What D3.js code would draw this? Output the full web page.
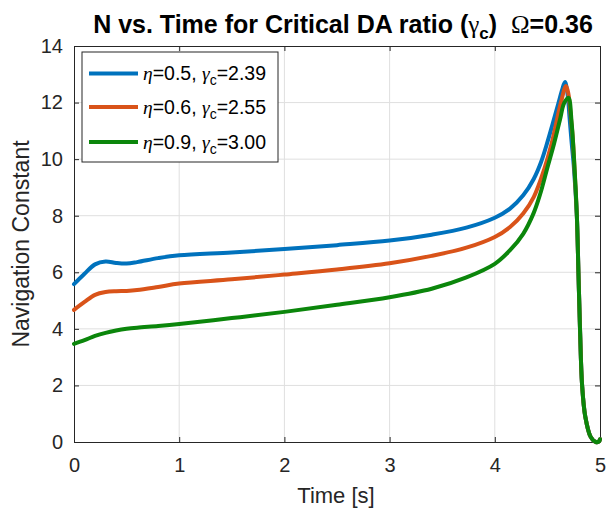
<!DOCTYPE html>
<html><head><meta charset="utf-8">
<script src="https://cdn.jsdelivr.net/npm/d3@7"></script>
<style>body{margin:0;background:#fff}</style>
</head><body><svg id="c" width="607" height="515"></svg>
<script>
const xTicks = [0,1,2,3,4,5];
const yTicks = [0,2,4,6,8,10,12,14];
const etaLabels = ["0.5","0.6","0.9"];
const gammaLabels = ["2.39","2.55","3.00"];
const colors = ["#0072BD","#D95319","#0B860B"];

const tBlue = [0,0.1,0.2,0.3,0.4,0.5,0.6,0.8,1.0,1.5,2.0,2.5,3.0,3.4,3.73,4.0,4.145,4.27,4.37,4.44,4.5,4.55,4.604,4.64,4.667,4.69,4.71,4.73,4.75,4.78,4.795,4.81,4.83,4.86,4.91,4.96,4.99,5.0];
const nBlue = [5.58,5.95,6.28,6.38,6.33,6.31,6.36,6.5,6.6,6.7,6.82,6.96,7.12,7.33,7.58,7.93,8.25,8.72,9.3,9.9,10.6,11.25,11.97,12.45,12.73,12.35,11.5,10.6,9.8,8.0,6.0,4.0,2.0,0.9,0.19,0.0,0.02,0.1];
const tOrange = [0,0.1,0.2,0.3,0.4,0.5,0.6,0.8,1.0,1.5,2.0,2.5,3.0,3.4,3.73,4.0,4.145,4.27,4.37,4.47,4.54,4.626,4.677,4.70,4.72,4.74,4.76,4.78,4.795,4.81,4.83,4.86,4.91,4.96,4.99,5.0];
const nOrange = [4.67,4.95,5.2,5.3,5.33,5.34,5.37,5.48,5.6,5.75,5.92,6.1,6.32,6.58,6.87,7.25,7.6,8.08,8.66,9.65,10.55,11.97,12.59,12.3,11.6,10.8,9.5,8.0,6.0,4.0,2.0,0.9,0.19,0.0,0.02,0.1];
const tGreen = [0,0.1,0.2,0.3,0.4,0.5,0.6,0.8,1.0,1.5,2.0,2.5,3.0,3.4,3.73,4.0,4.145,4.27,4.37,4.43,4.5,4.56,4.62,4.658,4.70,4.73,4.75,4.78,4.795,4.81,4.83,4.86,4.91,4.96,4.99,5.0];
const nGreen = [3.47,3.6,3.75,3.86,3.94,4.0,4.04,4.1,4.17,4.38,4.6,4.85,5.12,5.42,5.82,6.3,6.78,7.36,8.1,8.75,9.7,10.5,11.4,11.97,12.17,11.3,10.2,8.0,6.0,4.0,2.0,0.9,0.19,0.0,0.02,0.1];

const series = [
  {t:tBlue, n:nBlue},
  {t:tOrange, n:nOrange},
  {t:tGreen, n:nGreen}
];

const L=74, R=600, T=46, B=442;
const svg = d3.select("#c");
const x = d3.scaleLinear().domain([0,5]).range([L,R]);
const y = d3.scaleLinear().domain([0,14]).range([B,T]);
const axisCol = "#262626";
const font = "Arial, 'Liberation Sans', sans-serif";

// grid
svg.append("g").selectAll("line").data(xTicks.slice(1,-1)).join("line")
  .attr("x1",d=>x(d)).attr("x2",d=>x(d)).attr("y1",T).attr("y2",B)
  .attr("stroke","#dfdfdf").attr("stroke-width",1);
svg.append("g").selectAll("line").data(yTicks.slice(1,-1)).join("line")
  .attr("y1",d=>y(d)).attr("y2",d=>y(d)).attr("x1",L).attr("x2",R)
  .attr("stroke","#dfdfdf").attr("stroke-width",1);

// axes
const xAx = svg.append("g").attr("transform",`translate(0,${B})`)
  .call(d3.axisBottom(x).tickValues(xTicks).tickSize(-5).tickPadding(16).tickFormat(d3.format("d")));
const xAxT = svg.append("g").attr("transform",`translate(0,${T})`)
  .call(d3.axisTop(x).tickValues(xTicks).tickSize(-5).tickFormat(""));
const yAx = svg.append("g").attr("transform",`translate(${L},0)`)
  .call(d3.axisLeft(y).tickValues(yTicks).tickSize(-5).tickPadding(11).tickFormat(d3.format("d")));
const yAxR = svg.append("g").attr("transform",`translate(${R},0)`)
  .call(d3.axisRight(y).tickValues(yTicks).tickSize(-5).tickFormat(""));
[xAx,xAxT,yAx,yAxR].forEach(g=>{
  g.selectAll("path").attr("stroke",axisCol).attr("stroke-width",1);
  g.selectAll("line").attr("stroke",axisCol);
  g.selectAll("text").attr("fill",axisCol).style("font-family",font).style("font-size","20px");
});

// lines
const line = d3.line().x(d=>x(d[0])).y(d=>y(d[1])).curve(d3.curveCatmullRom.alpha(0.5));
series.forEach((s,i)=>{
  svg.append("path").datum(s.t.map((t,j)=>[t,s.n[j]]))
    .attr("d",line).attr("fill","none").attr("stroke",colors[i])
    .attr("stroke-width",4).attr("stroke-linejoin","round").attr("stroke-linecap","round");
});

// title
const title = svg.append("text").attr("x",343).attr("y",33).attr("text-anchor","middle")
  .style("font-family",font).style("font-size","25px").style("font-weight","bold").attr("fill","#000");
title.append("tspan").text("N vs. Time for Critical DA ratio (");
title.append("tspan").text("γ").style("font-family","'Liberation Serif', serif").style("font-weight","normal").style("font-size","25px");
title.append("tspan").text("c").attr("dy",6).style("font-size","17px");
title.append("tspan").text(")\u00a0\u00a0").attr("dy",-6);
title.append("tspan").text("Ω").style("font-family","'Liberation Serif', serif").style("font-weight","normal");
title.append("tspan").text("=0.36");

// axis labels
svg.append("text").attr("x",336).attr("y",503).attr("text-anchor","middle")
  .style("font-family",font).style("font-size","22px").attr("fill",axisCol).text("Time [s]");
svg.append("text").attr("transform","translate(29,244) rotate(-90)").attr("text-anchor","middle")
  .style("font-family",font).style("font-size","23px").attr("fill",axisCol).text("Navigation Constant");

// legend
const lg = svg.append("g");
lg.append("rect").attr("x",82).attr("y",52).attr("width",196).attr("height",110)
  .attr("fill","#fff").attr("stroke",axisCol).attr("stroke-width",1);
const rows=[73.5,107,142];
etaLabels.forEach((e,i)=>{
  lg.append("line").attr("x1",89).attr("x2",138).attr("y1",rows[i]).attr("y2",rows[i])
    .attr("stroke",colors[i]).attr("stroke-width",4);
  const tx = lg.append("text").attr("x",143).attr("y",rows[i]+6.5)
    .style("font-family",font).style("font-size","19.5px").attr("fill","#000");
  tx.append("tspan").text("η").style("font-family","'Liberation Serif', serif").style("font-style","italic");
  tx.append("tspan").text("="+e+", ");
  tx.append("tspan").text("γ").style("font-family","'Liberation Serif', serif").style("font-style","italic");
  tx.append("tspan").text("c").attr("dy",5).style("font-size","14px");
  tx.append("tspan").text("="+gammaLabels[i]).attr("dy",-5);
});
</script></body></html>
